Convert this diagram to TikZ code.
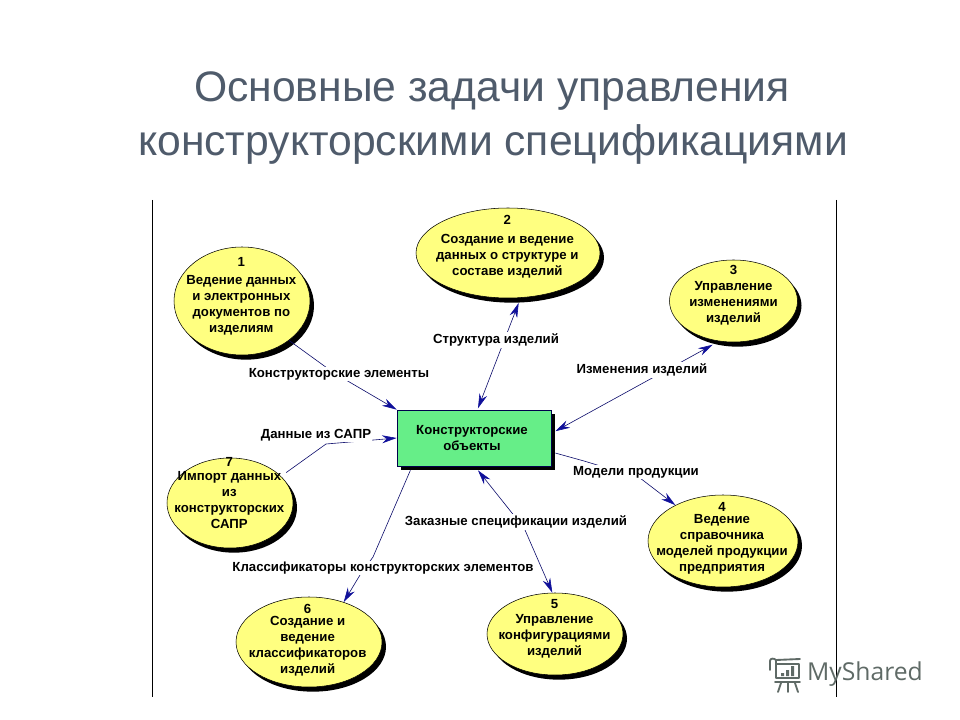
\documentclass[tikz,border=0pt]{standalone}
\usepackage{fontspec}
\setmainfont{Liberation Sans}
\newfontfamily\markfont{Open Sans}
\usetikzlibrary{shapes.geometric,arrows.meta}
\definecolor{titlegray}{HTML}{4F5B6B}
\definecolor{ovalyellow}{HTML}{FFFF80}
\definecolor{boxgreen}{HTML}{66EE88}
\definecolor{linkblue}{HTML}{10109A}
\definecolor{linkdark}{HTML}{0B0B6A}
\definecolor{markgray}{HTML}{5F6A66}
\newcommand{\etxt}[3]{\raisebox{#2}[0pt][0pt]{\makebox[0pt][c]{\hspace*{#1}\fontsize{9.9pt}{12pt}\selectfont\bfseries\begin{tabular}[c]{@{}c@{}}#3\end{tabular}}}}
\tikzset{
  x=0.75pt,y=-0.75pt,
  oval/.style={ellipse,draw=black,line width=0.4pt,fill=ovalyellow,inner sep=0pt,
    preaction={fill=black,transform canvas={shift={(3pt,-3.5pt)}}}},
  blue tip/.tip={Stealth[length=11pt,width=6pt,color=linkblue,fill=linkblue]},
  linkto/.style={draw=linkdark,line width=0.45pt,-{blue tip}},
  linkboth/.style={draw=linkdark,line width=0.45pt,{blue tip}-{blue tip}},
  flowlabel/.style={fill=white,inner xsep=1pt,inner ysep=1pt,font=\fontsize{9.9pt}{11pt}\selectfont\bfseries},
  frameline/.style={draw=black,line width=0.75pt},
  titletext/.style={text=titlegray,font=\fontsize{32pt}{40pt}\selectfont},
}
\begin{document}
\begin{tikzpicture}
\useasboundingbox (0,0) rectangle (960,720);
\node[titletext] (t1) at (492,91) {Основные задачи управления};
\node[titletext] (t2) at (493,144) {конструкторскими спецификациями};
\coordinate (fa) at (152,200); \coordinate (fb) at (152,697);
\coordinate (fc) at (836,200); \coordinate (fd) at (836,697);
% central box
\node[draw=black!70!blue,line width=0.5pt,fill=boxgreen,minimum width=115.5pt,minimum height=42pt,inner sep=0pt,
  preaction={fill=black,transform canvas={shift={(3pt,-3pt)}}}] (box) at (474,438) {\etxt{-3pt}{-3.1pt}{Конструкторские\\объекты}};
% ovals
\node[oval,minimum width=102pt,minimum height=81pt] (e1) at (242,301) {\etxt{-1pt}{1pt}{1\\[1.5pt]Ведение данных\\и электронных\\документов по\\изделиям}};
\node[oval,minimum width=138pt,minimum height=67.5pt] (e2) at (508,253) {\etxt{-1pt}{1.8pt}{2\\[2.2pt]Создание и ведение\\данных о структуре и\\составе изделий}};
\node[oval,minimum width=96pt,minimum height=61.5pt] (e3) at (733.5,301) {\etxt{0pt}{1.5pt}{3\\Управление\\изменениями\\изделий}};
\node[oval,minimum width=112.5pt,minimum height=69pt] (e4) at (723,541) {\etxt{-1.5pt}{-0.2pt}{4\\[-3pt]Ведение\\справочника\\моделей продукции\\предприятия}};
\node[oval,minimum width=102pt,minimum height=61.5pt] (e5) at (555,634) {\etxt{-0.7pt}{1.4pt}{5\\[-0.8pt]Управление\\конфигурациями\\изделий}};
\node[oval,minimum width=109.5pt,minimum height=67.5pt] (e6) at (309,642) {\etxt{-2pt}{-1.5pt}{6\\[-3pt]Создание и\\ведение\\классификаторов\\изделий}};
\node[oval,minimum width=94.5pt,minimum height=67.5pt] (e7) at (230,503) {\etxt{-1pt}{3.7pt}{7\\[-1.5pt]Импорт данных\\из\\конструкторских\\САПР}};
% frame
\draw[frameline] (fa) -- (fb);
\draw[frameline] (fc) -- (fd);
% connectors
\coordinate (k1) at (334,373);
\coordinate (k7a) at (326,444); \coordinate (k7b) at (362,441);
\coordinate (k4a) at (584,461); \coordinate (k4b) at (640,478);
\coordinate (k5a) at (512,513); \coordinate (k5b) at (525,530);
\coordinate (k6a) at (373,557); \coordinate (k6b) at (360,575);
\draw[linkto] (e1.-40) -- (k1) -- (box.north west);
\draw[linkto] ([xshift=7pt]e7.33) -- (k7a) -- (k7b) -- (box.west);
\draw[linkboth] ([yshift=1pt]box.82) -- ([shift={(8pt,-3.5pt)}]e2.south);
\draw[linkboth] ([xshift=3pt]box.5) -- ([yshift=-3.5pt]e3.-118);
\draw[linkto] ([xshift=3pt]box.-11) -- (k4a) -- (k4b) -- (e4.143.7);
\draw[linkboth] ([yshift=-3pt]box.-82) -- (k5a) -- (k5b) -- ([xshift=-2pt]e5.north);
\draw[linkto] ([yshift=-3pt]box.204.7) -- (k6a) -- (k6b) -- (e6.49.5);
% flow labels
\node[flowlabel] (l1) at (339,374) {Конструкторские элементы};
\node[flowlabel] (l7) at (316,435) {Данные из САПР};
\node[flowlabel] (l2) at (496,340) {Структура изделий};
\node[flowlabel] (l3) at (642,370) {Изменения изделий};
\node[flowlabel] (l4) at (636,472) {Модели продукции};
\node[flowlabel] (l5) at (516,522) {Заказные спецификации изделий};
\node[flowlabel] (l6) at (383,568) {Классификаторы конструкторских элементов};
% watermark
\begin{scope}[draw=markgray,line width=1.4pt,line cap=round,line join=round]
\draw (770,670) -- (770,661) .. controls (770,658) and (774,658) .. (776,660) -- (776,678) -- (799,678) -- (799,664) -- (776,664);
\draw (776,660) -- (800,659);
\draw (781,683) -- (778,692) (788,683) -- (788,692) (795,683) -- (798,692);
\draw (775,682) -- (800,682);
\fill[markgray] (781,673) rectangle (784,676) (786,670) rectangle (789,676) (791,666) rectangle (794,676);
\end{scope}
\node[text=markgray,font=\fontsize{18.5pt}{24pt}\markfont\selectfont] (wm) at (865,674) {MyShared};
\end{tikzpicture}
\end{document}
